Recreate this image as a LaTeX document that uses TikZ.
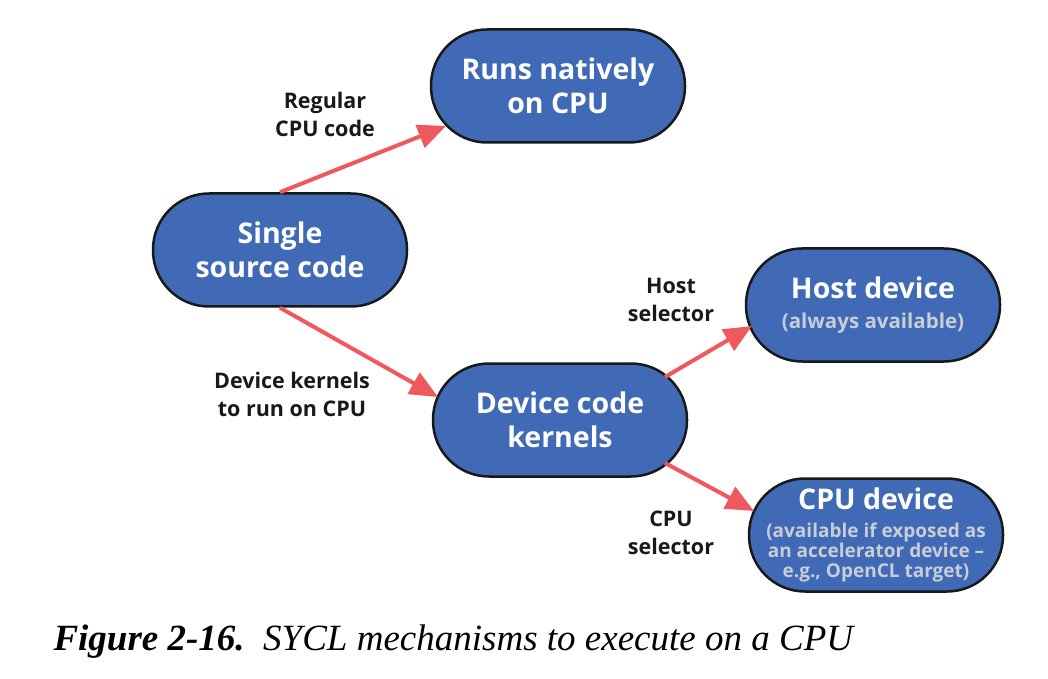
\documentclass[tikz,border=0pt]{standalone}
\usepackage{fontspec}
\setsansfont{Open Sans}
\setmainfont{Liberation Serif}
\usetikzlibrary{arrows.meta,positioning,shapes.misc}
\usepackage{xcolor}
\definecolor{boxblue}{RGB}{64,106,181}
\definecolor{subgray}{RGB}{200,205,214}
\definecolor{arrowred}{RGB}{239,88,92}
\newcommand{\subtxt}[2][19]{{\color{subgray}\fontsize{#1}{20.5}\selectfont #2}}

\begin{document}
\begin{tikzpicture}[x=1pt, y=1pt,
    box/.style={
        rectangle,
        rounded corners=56pt,
        draw=black!90,
        line width=2.5pt,
        fill=boxblue,
        text=white,
        align=center,
        minimum width=254pt,
        minimum height=113pt,
        inner sep=2pt,
        font=\sffamily\bfseries\fontsize{28.5}{34}\selectfont
    },
    lbl/.style={
        align=center,
        text=black!90,
        font=\sffamily\bfseries\fontsize{21.5}{28}\selectfont
    },
    flow/.style={
        -{Triangle[length=28pt,width=24pt]},
        arrowred,
        line width=4pt
    }
]

    \useasboundingbox (0,0) rectangle (1048,678);



    \node (single_source) [box, shift={(280, 428)}]
    {
        Single\\source code
    };

    \node (runs_natively) [box, shift={(558, 592)}]
    {
        Runs natively\\on CPU
    };

    \node (device_kernels) [box, shift={(560, 258)}]
    {
        Device code\\kernels
    };





    \node (host_device) [box, shift={(873, 373)}]
    {
        Host device\\[-4pt]\subtxt[20.5]{(always available)}
    };

    \node (cpu_device) [box, shift={(876, 143)}]
    {
        CPU device\\[-6pt]\subtxt{(available if exposed as}\\[-14pt]
        \subtxt{an accelerator device --}\\[-14pt]
        \subtxt{e.g., OpenCL target)}
    };


    \node (regular_lbl) [lbl, shift={(325, 564)}] {Regular\\CPU code};
    \node (kernels_lbl) [lbl, shift={(292, 284)}] {Device kernels\\to run on CPU};
    \node (host_lbl) [lbl, shift={(671, 378)}] {Host\\selector};
    \node (cpu_lbl) [lbl, shift={(671, 145)}] {CPU\\selector};


    \draw[flow] (single_source.north) to ([shift={(-112,-40)}]runs_natively.center);
    \draw[flow] (single_source.south) to ([shift={(-122,23)}]device_kernels.center);
    \draw[flow] ([shift={(105,43)}]device_kernels.center) to ([shift={(-121,-21)}]host_device.center);
    \draw[flow] ([shift={(105,-43)}]device_kernels.center) to ([shift={(-122,24)}]cpu_device.center);


    \node (caption) [anchor=west, shift={(50, 36)}, font=\fontsize{37}{42}\selectfont]
    {
        \textbf{\textit{Figure 2-16.}}\ \ \textit{SYCL mechanisms to execute on a CPU}
    };


\end{tikzpicture}
\end{document}
